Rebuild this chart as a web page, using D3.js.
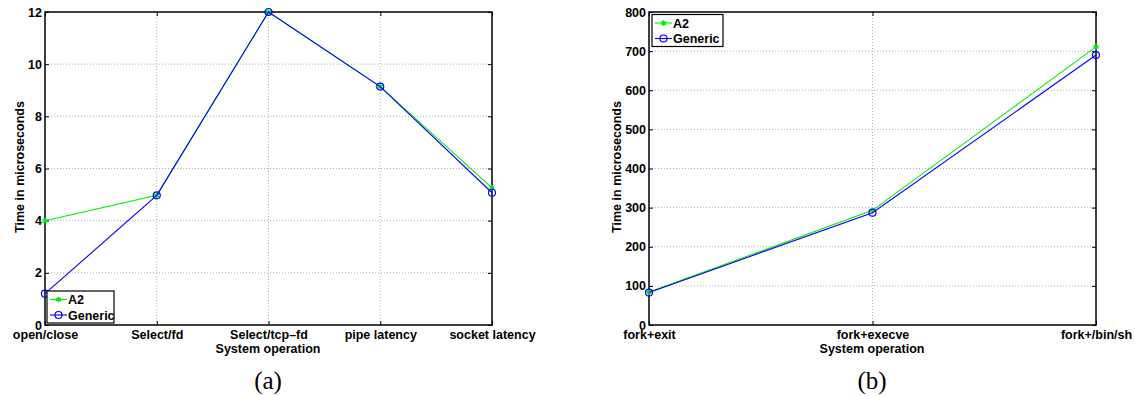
<!DOCTYPE html>
<meta charset="utf-8">
<script src="https://d3js.org/d3.v7.min.js"></script>
<style>
  body { margin: 0; background: #fff; }
  text { font-family: "Liberation Sans", Arial, sans-serif; font-weight: bold; }
</style>
<svg id="chart" width="1135" height="396"></svg>
<script>

// Panel (a)
var catsA = ["open/close", "Select/fd", "Select/tcp\u2013fd", "pipe latency", "socket latency"];
var a2A = [4.0, 4.97, 12.0, 9.14, 5.26];
var genericA = [1.2, 4.97, 12.0, 9.14, 5.07];
var ticksA = [0, 2, 4, 6, 8, 10, 12];

// Panel (b)
var catsB = ["fork+exit", "fork+execve", "fork+/bin/sh"];
var a2B = [84, 293, 711];
var genericB = [83, 287, 690];
var ticksB = [0, 100, 200, 300, 400, 500, 600, 700, 800];

var svg = d3.select("#chart");

function panel(opts) {
  var g = svg.append("g");
  var x = d3.scalePoint().domain(opts.cats).range([opts.left, opts.right]);
  var y = d3.scaleLinear().domain([0, opts.ymax]).range([325, 12]);

  // grid
  g.selectAll(".gy").data(opts.ticks.slice(1, -1)).enter().append("line")
    .attr("x1", opts.left).attr("x2", opts.right)
    .attr("y1", d => y(d)).attr("y2", d => y(d))
    .attr("stroke", "#b0b0b0").attr("stroke-width", 1).attr("stroke-dasharray", "1,2");
  g.selectAll(".gx").data(opts.cats.slice(1, -1)).enter().append("line")
    .attr("x1", d => x(d)).attr("x2", d => x(d))
    .attr("y1", 12).attr("y2", 325)
    .attr("stroke", "#b0b0b0").attr("stroke-width", 1).attr("stroke-dasharray", "1,2");

  // axes with inward ticks
  g.append("g").attr("transform", "translate(" + opts.left + ",0)")
    .call(d3.axisLeft(y).tickValues(opts.ticks).tickSize(-4).tickPadding(3).tickFormat(d3.format("d")))
    .call(s => { s.select(".domain").remove(); s.selectAll("text").attr("font-size", 12.5).attr("fill", "#000"); });
  g.append("g").attr("transform", "translate(" + opts.right + ",0)")
    .call(d3.axisRight(y).tickValues(opts.ticks).tickSize(-4).tickFormat(""))
    .call(s => s.select(".domain").remove());
  g.append("g").attr("transform", "translate(0,325)")
    .call(d3.axisBottom(x).tickSize(-4).tickPadding(5))
    .call(s => { s.select(".domain").remove(); s.selectAll("text").attr("font-size", 12.5).attr("fill", "#000"); });
  g.append("g").attr("transform", "translate(0,12)")
    .call(d3.axisTop(x).tickSize(-4).tickFormat(""))
    .call(s => s.select(".domain").remove());

  g.append("rect").attr("x", opts.left).attr("y", 12)
    .attr("width", opts.right - opts.left).attr("height", 313)
    .attr("fill", "none").attr("stroke", "#000").attr("stroke-width", 1.5);

  // lines
  var line = d3.line().x((d, i) => x(opts.cats[i])).y(d => y(d));
  var series = [
    { name: "A2", vals: opts.a2, color: "#00ee00", marker: "star" },
    { name: "Generic", vals: opts.gen, color: "#0000ff", marker: "circle" }
  ];
  series.forEach(function(s) {
    g.append("path").attr("d", line(s.vals)).attr("fill", "none")
      .attr("stroke", s.color).attr("stroke-width", 1.1);
    drawMarkers(g, s, s.vals.map((v, i) => [x(opts.cats[i]), y(v)]));
  });

  // legend
  var lg = g.append("g").attr("transform", "translate(" + opts.legX + "," + opts.legY + ")");
  lg.append("rect").attr("width", opts.legW).attr("height", 32)
    .attr("fill", "#fff").attr("stroke", "#000").attr("stroke-width", 1.2);
  series.forEach(function(s, i) {
    var yy = 8.5 + i * 15.5;
    lg.append("line").attr("x1", 3).attr("x2", 20).attr("y1", yy).attr("y2", yy)
      .attr("stroke", s.color).attr("stroke-width", 1.1);
    drawMarkers(lg, s, [[11.5, yy]]);
    lg.append("text").attr("x", 21).attr("y", yy + 4.5).attr("font-size", 12.5).text(s.name);
  });

  // labels
  svg.append("text").attr("transform", "translate(" + opts.ylabX + ",167) rotate(-90)")
    .attr("text-anchor", "middle").attr("font-size", 12.5).text("Time in microseconds");
  svg.append("text").attr("x", opts.xlabX).attr("y", 352.5)
    .attr("text-anchor", "middle").attr("font-size", 12.5).text("System operation");
  svg.append("text").attr("x", opts.xlabX).attr("y", 389)
    .attr("text-anchor", "middle").attr("font-size", 25)
    .style("font-family", "'Liberation Serif', serif").style("font-weight", "normal")
    .text(opts.caption);
}

function drawMarkers(g, s, pts) {
  pts.forEach(function(p) {
    if (s.marker === "circle") {
      g.append("circle").attr("cx", p[0]).attr("cy", p[1]).attr("r", 3.5)
        .attr("fill", "none").attr("stroke", s.color).attr("stroke-width", 1.2);
    } else {
      g.append("path").attr("transform", "translate(" + p[0] + "," + p[1] + ")")
        .attr("d", d3.symbol().type(d3.symbolAsterisk).size(20)())
        .attr("fill", "none").attr("stroke", s.color).attr("stroke-width", 1.6);
    }
  });
}

panel({ cats: catsA, a2: a2A, gen: genericA, ticks: ticksA, ymax: 12,
  left: 45, right: 492, legX: 47, legY: 291, legW: 67, ylabX: 24, xlabX: 268, caption: "(a)" });
panel({ cats: catsB, a2: a2B, gen: genericB, ticks: ticksB, ymax: 800,
  left: 649, right: 1096, legX: 652, legY: 14.5, legW: 71, ylabX: 621, xlabX: 872, caption: "(b)" });

</script>
